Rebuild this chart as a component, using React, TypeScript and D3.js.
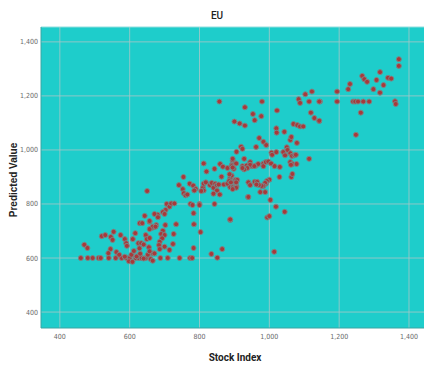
import React from 'react';
import * as d3 from 'd3';

const title = 'EU';
const xLabel = 'Stock Index';
const yLabel = 'Predicted Value';
const xTicks = [400, 600, 800, 1000, 1200, 1400];
const yTicks = [400, 600, 800, 1000, 1200, 1400];

// [stock index, predicted value]
const lowerPoints = [
  [460, 600], [480, 600], [494, 600], [511, 600], [517, 600], [540, 600], [560, 600], [577, 600],
  [591, 600], [600, 600], [617, 600], [626, 600], [634, 600], [646, 600],
  [470, 649], [479, 637],
  [520, 681], [530, 685], [554, 697], [546, 678], [551, 667], [545, 633], [539, 618], [562, 622],
  [574, 685], [586, 670], [590, 655], [592, 645], [609, 670], [616, 692], [625, 655], [633, 655],
  [629, 729], [636, 729], [643, 756], [657, 734], [646, 685], [649, 670], [657, 674], [671, 716],
  [665, 712], [676, 722], [680, 760], [671, 763],
  [598, 588], [608, 586], [605, 612], [620, 606], [630, 616], [640, 598], [652, 612], [660, 596],
  [666, 590], [612, 626], [628, 636], [586, 605], [570, 612], [655, 640], [640, 650],
  [650, 848],
];

const midPoints = [
  [754, 900], [741, 870], [752, 855], [755, 840], [760, 832], [765, 835],
  [772, 875], [782, 868], [789, 856], [785, 850],
  [774, 800], [780, 796], [800, 800],
  [783, 766], [784, 725], [803, 696], [783, 637],
  [706, 800], [714, 790], [719, 802], [728, 802], [703, 778], [695, 770], [700, 763],
  [733, 725], [702, 722], [695, 701], [690, 689], [700, 685], [693, 673], [686, 660],
  [726, 689], [724, 652], [714, 630], [700, 642], [684, 648], [686, 633], [667, 617], [671, 617], [657, 625],
  [681, 751], [657, 737], [666, 716], [674, 716], [657, 707],
  [688, 600], [709, 600], [743, 600], [773, 600], [779, 600],
  [812, 950], [859, 948], [867, 938], [895, 960], [880, 933], [893, 945], [898, 930], [905, 950],
  [923, 940], [935, 942], [945, 955], [950, 940], [962, 942], [968, 948],
  [820, 920], [843, 930], [863, 901], [886, 880], [888, 895], [892, 905], [886, 910], [903, 889], [908, 889],
  [810, 860], [812, 875], [818, 880], [812, 850], [805, 848],
  [830, 870], [835, 878], [840, 860], [845, 875], [850, 870], [855, 872], [850, 850],
  [840, 838], [858, 835],
  [870, 872], [880, 875], [885, 885], [888, 862], [895, 862], [903, 865], [906, 865],
  [940, 880], [958, 882], [965, 882], [939, 826],
  [843, 800], [800, 796],
  [834, 615], [851, 601], [865, 633], [888, 741], [857, 1179],
];

const upperPoints = [
  [1122, 1216], [1103, 1206], [1084, 1188], [1088, 1174], [1114, 1179], [1145, 1179], [1119, 1138],
  [1129, 1118], [1143, 1107],
  [979, 1179], [930, 1158], [953, 1133], [958, 1110], [977, 1125], [1022, 1146],
  [900, 1105], [915, 1098], [930, 1090],
  [1020, 1080], [1021, 1064], [1043, 1067],
  [1069, 1096], [1080, 1092], [1088, 1087], [1097, 1087],
  [1060, 1037], [1063, 1048], [1079, 1026],
  [971, 1044], [983, 1030], [991, 1018], [962, 1011], [919, 1012], [923, 1004], [906, 993],
  [895, 967], [928, 967],
  [945, 945], [957, 940], [937, 933], [928, 928], [923, 933], [892, 940], [895, 935],
  [983, 950], [983, 940], [990, 955], [997, 957], [1005, 950], [1015, 940], [1030, 937],
  [1006, 990], [1008, 982], [1020, 992],
  [1040, 992], [1050, 1010], [1052, 1000], [1045, 980], [1060, 988], [1065, 978], [1072, 980], [1076, 982],
  [1060, 955], [1066, 948], [1078, 948], [1062, 945],
  [1114, 967],
  [1000, 890], [993, 885], [990, 875], [988, 878], [983, 867], [978, 867], [970, 870], [963, 872],
  [945, 870], [905, 880], [905, 860], [895, 855], [890, 880],
  [1029, 900], [1063, 900], [1066, 911],
  [940, 826], [974, 844], [988, 844], [1003, 815], [1019, 790], [1044, 771], [994, 750], [1000, 755],
  [888, 743], [1014, 623],
];

const topPoints = [
  [1371, 1336], [1371, 1311], [1317, 1288], [1266, 1274], [1272, 1262], [1280, 1252], [1307, 1259],
  [1327, 1240], [1340, 1267], [1349, 1264], [1298, 1225], [1317, 1212], [1226, 1225], [1231, 1244],
  [1194, 1216],
  [1143, 1179], [1194, 1179], [1240, 1179], [1246, 1179], [1254, 1179], [1269, 1179], [1286, 1179],
  [1360, 1180], [1362, 1170],
  [1262, 1138], [1248, 1056], [1143, 1108],
];

const points = [...lowerPoints, ...midPoints, ...upperPoints, ...topPoints];

const W = 425;
const H = 368;
const plot = { left: 41, right: 424, top: 27, bottom: 328 };

const x = d3.scaleLinear().domain([346, 1443]).range([plot.left, plot.right]);
const y = d3.scaleLinear().domain([341, 1455]).range([plot.bottom, plot.top]);
const fmt = d3.format(',');

const tickFont = '"Liberation Sans Narrow", "DejaVu Sans Condensed", sans-serif';
const labelFont = 'Roboto, "Liberation Sans", sans-serif';

export default function App() {
  return (
    <svg width={W} height={H} style={{ position: 'absolute', left: 0, top: 0, background: '#fff' }}>
      <rect x={plot.left} y={plot.top} width={plot.right - plot.left} height={plot.bottom - plot.top} fill="#1ecdcb" />
      {xTicks.map(t => (
        <line key={'gx' + t} x1={x(t)} x2={x(t)} y1={plot.top} y2={plot.bottom} stroke="#a9c7c6" strokeWidth={0.8} />
      ))}
      {yTicks.map(t => (
        <line key={'gy' + t} x1={plot.left} x2={plot.right} y1={y(t)} y2={y(t)} stroke="#a9c7c6" strokeWidth={0.8} />
      ))}
      <line x1={plot.left} x2={plot.right} y1={plot.top} y2={plot.top} stroke="#8fdede" strokeWidth={1} />
      <line x1={plot.left} x2={plot.left} y1={plot.top} y2={plot.bottom} stroke="#3aa6a4" strokeWidth={1} />
      <line x1={plot.left} x2={plot.right} y1={plot.bottom} y2={plot.bottom} stroke="#3aa6a4" strokeWidth={1.2} />

      {points.map((d, i) => (
        <circle key={i} cx={x(d[0])} cy={y(d[1])} r={2.5} fill="#a8393a" stroke="#7d8585" strokeWidth={1} />
      ))}

      {xTicks.map(t => (
        <text key={'tx' + t} x={x(t)} y={339} fontSize={7} fill="#6a6a6a" textAnchor="middle" fontFamily={tickFont}>
          {fmt(t)}
        </text>
      ))}
      {yTicks.map(t => (
        <text key={'ty' + t} x={38} y={y(t) + 2.5} fontSize={7} fill="#6a6a6a" textAnchor="end" fontFamily={tickFont}>
          {fmt(t)}
        </text>
      ))}

      <text x={217} y={19} fontSize={10} fontWeight={500} textAnchor="middle" fill="#222" fontFamily={labelFont}>{title}</text>
      <text x={235} y={361} fontSize={10} fontWeight="bold" textAnchor="middle" fill="#222" fontFamily={labelFont}>{xLabel}</text>
      <text transform="translate(17,180) rotate(-90)" fontSize={10} fontWeight="bold" textAnchor="middle" fill="#222"
        fontFamily='"Liberation Sans", Arial, sans-serif'>{yLabel}</text>
    </svg>
  );
}
